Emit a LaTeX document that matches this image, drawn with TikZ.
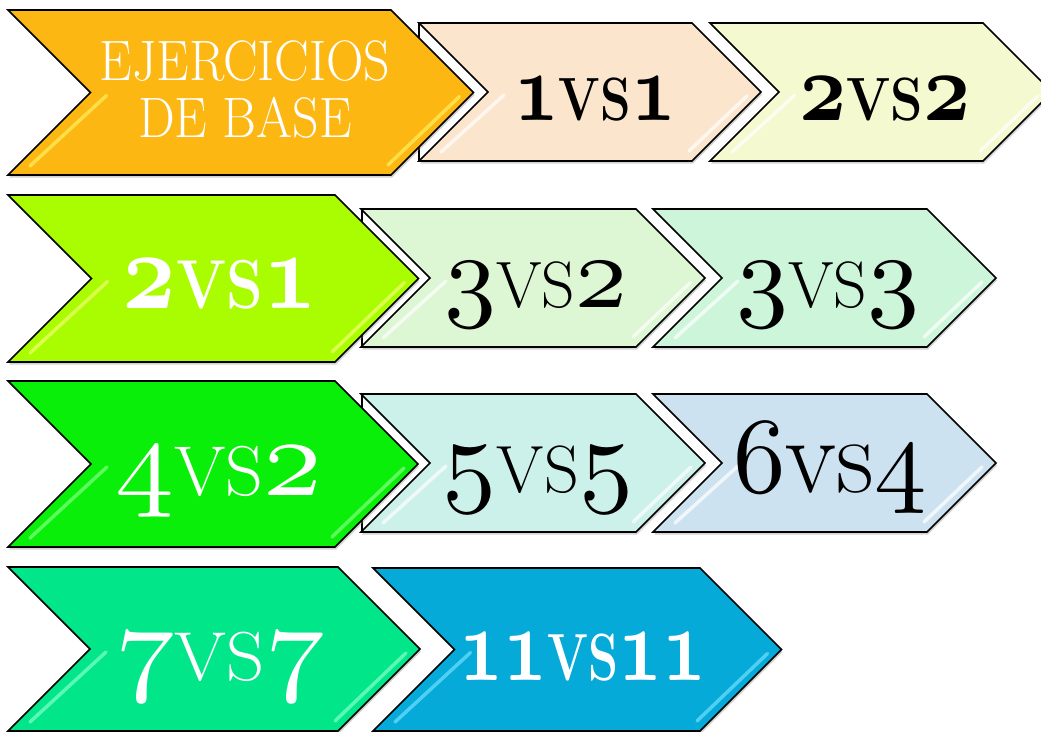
\documentclass[tikz,border=0pt]{standalone}
\usepackage{fontspec}
\usetikzlibrary{shadows}
\definecolor{cA}{HTML}{FCB712}
\definecolor{cB}{HTML}{FCE5CD}
\definecolor{cC}{HTML}{F5F9CF}
\definecolor{cD}{HTML}{AAFC00}
\definecolor{cE}{HTML}{DDF6D3}
\definecolor{cF}{HTML}{CDF5DA}
\definecolor{cG}{HTML}{0AEF0A}
\definecolor{cH}{HTML}{CCF1EA}
\definecolor{cI}{HTML}{CDE2F0}
\definecolor{cJ}{HTML}{02E68A}
\definecolor{cK}{HTML}{05AAD9}
\definecolor{hA}{HTML}{FFF060}
\definecolor{hD}{HTML}{F0FF70}
\definecolor{hG}{HTML}{80FF80}
\definecolor{hJ}{HTML}{80FFC8}
\definecolor{hK}{HTML}{70E0FF}
\tikzset{
  chevline/.style={draw=black, line width=1.6pt, line join=miter},
  hl/.style={line width=3.5pt, line cap=round, opacity=0.7},
  wtxt/.style={text=white, inner sep=0pt, anchor=base},
  btxt/.style={text=black, inner sep=0pt, anchor=base},
}
\newcommand\numfont[1]{\fontsize{#1}{#1}\selectfont}
\makeatletter
\newcommand\od[1]{{\font\odfnt=cmmi10 at \f@size pt\relax\odfnt #1}}
\newcommand\odb[1]{{\font\odfnt=cmmib10 at \f@size pt\relax\odfnt #1}}
\makeatother
\newcommand\VS{\scalebox{0.63}{VS}}
\newcommand\chev[6]{%
  \pgfmathsetmacro\chD{(#3-#2)/2}%
  \pgfmathsetmacro\chM{(#3+#2)/2}%
  \pgfmathsetmacro\chN{#1+\chD}%
  \pgfmathsetmacro\chT{#4+\chD}%
  \draw[chevline, fill=#5, drop shadow={opacity=0.35, shadow xshift=1pt, shadow yshift=-2.5pt}]
    (#1,#2) -- (#4,#2) -- (\chT,\chM) -- (#4,#3) -- (#1,#3) -- (\chN,\chM) -- cycle;
  \draw[hl, draw=#6] (\chN+16,\chM+3) -- (#1+22,#3-9);
  \draw[hl, draw=#6] (\chT-14,\chM+4) -- (#4-3,#3-10);
}
\begin{document}
\begin{tikzpicture}[x=1pt, y=-1pt]
\useasboundingbox (0,0) rectangle (1041,731);
\clip (0,0) rectangle (1041,731);
% row 1
\chev{710}{23}{161}{983}{cC}{white}
\draw[chevline] (419,23) -- (419,161);
\chev{419}{23}{161}{692}{cB}{white}
\chev{8}{10}{175}{391}{cA}{hA}
% row 2
\chev{653}{209}{347}{927}{cF}{white}
\draw[chevline] (362,209) -- (362,347);
\chev{361}{209}{347}{636}{cE}{white}
\chev{8}{195}{362}{335}{cD}{hD}
% row 3
\chev{653}{394}{532}{927}{cI}{white}
\draw[chevline] (362,394) -- (362,532);
\chev{361}{394}{532}{636}{cH}{white}
\chev{8}{381}{547}{335}{cG}{hG}
% row 4
\chev{373}{568}{731}{700}{cK}{hK}
\chev{8}{567}{731}{338}{cJ}{hJ}
% texts
\node[text=white, inner sep=0pt, align=center, font=\fontsize{57}{57}\selectfont] (tA) at (245,90)
  {\scalebox{0.91}[1]{EJERCICIOS}\\\scalebox{0.91}[1]{DE BASE}};
\node[btxt, font=\bfseries\numfont{97}] (tB) at (595,120) {\scalebox{0.8}[1]{\odb{1}\VS\odb{1}}};
\node[btxt, font=\bfseries\numfont{97}] (tC) at (885,120) {\scalebox{0.85}[1]{\odb{2}\VS\odb{2}}};
\node[wtxt, font=\bfseries\numfont{110}] (tD) at (220,308) {\scalebox{0.85}[1]{\odb{2}\VS\odb{1}}};
\node[btxt, font=\numfont{104}] (tE) at (536,307) {\scalebox{1.0}[1]{\od{3}\VS\od{2}}};
\node[btxt, font=\numfont{104}] (tF) at (828,307) {\scalebox{1.0}[1]{\od{3}\VS\od{3}}};
\node[wtxt, font=\numfont{112}] (tG) at (219,495) {\scalebox{1.05}[1]{\od{4}\VS\od{2}}};
\node[btxt, font=\numfont{106}] (tH) at (538,492) {\scalebox{1.02}[1]{\od{5}\VS\od{5}}};
\node[btxt, font=\numfont{108}] (tI) at (830,492) {\scalebox{0.97}[1]{\od{6}vs\od{4}}};
\node[wtxt, font=\numfont{110}] (tJ) at (220,680) {\scalebox{1.08}[1]{\od{7}\VS\od{7}}};
\node[wtxt, font=\bfseries\numfont{106}] (tK) at (583,680) {\scalebox{0.72}[1]{\odb{11}\VS\odb{11}}};
\end{tikzpicture}
\end{document}
